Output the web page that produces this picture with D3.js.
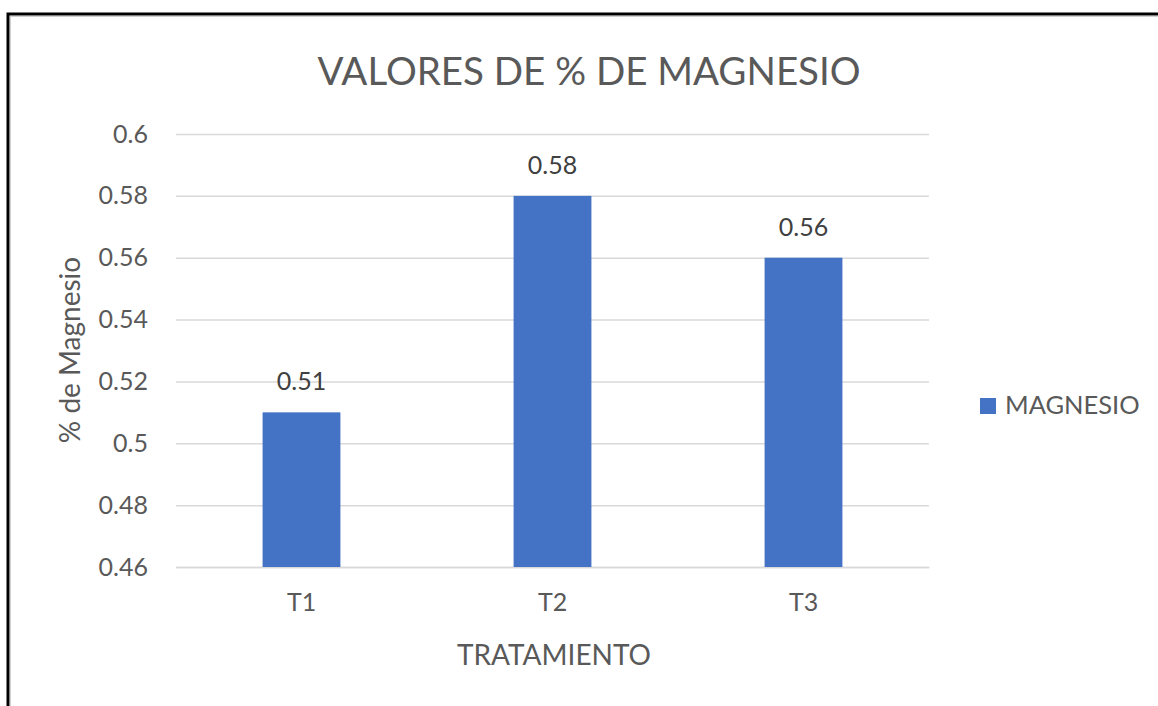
<!DOCTYPE html>
<html>
<head>
<meta charset="utf-8">
<script src="https://cdn.jsdelivr.net/npm/d3@7"></script>
<style>
  body { margin: 0; background: #fff; }
  svg { display: block; font-family: Lato, "Open Sans", sans-serif; }
</style>
</head>
<body>
<div id="chart"></div>
<script>
// data
const categories = ["T1", "T2", "T3"];
const magnesio = [0.51, 0.58, 0.56];
const yTicks = [0.46, 0.48, 0.5, 0.52, 0.54, 0.56, 0.58, 0.6];
const seriesName = "MAGNESIO";

const W = 1158, H = 706;
const margin = {top: 134, right: 229, bottom: 139, left: 176},
      width = W - margin.left - margin.right,
      height = H - margin.top - margin.bottom;

let svg = d3.select("#chart")
  .append("svg")
    .attr("width", W)
    .attr("height", H);

// outer frame
svg.append("rect")
  .attr("x", 8).attr("y", 14)
  .attr("width", W + 10).attr("height", H + 10)
  .attr("fill", "none")
  .attr("stroke", "#000")
  .attr("stroke-width", 3);
svg.append("rect")
  .attr("x", 10.5).attr("y", 16.5)
  .attr("width", W + 10).attr("height", H + 10)
  .attr("fill", "none")
  .attr("stroke", "#d0d0d0")
  .attr("stroke-width", 1);

let g = svg.append("g")
  .attr("transform", "translate(" + margin.left + "," + margin.top + ")");

// scales
let x = d3.scaleBand()
  .domain(categories)
  .range([0, width])
  .paddingInner(0.69)
  .paddingOuter(0.345);

let y = d3.scaleLinear()
  .domain([0.46, 0.6])
  .range([height, 0]);

// gridlines
g.append("g")
  .call(d3.axisLeft(y).tickValues(yTicks).tickSize(-width).tickFormat(""))
  .call(a => a.select(".domain").remove())
  .selectAll("line")
    .attr("stroke", "#d9d9d9")
    .attr("stroke-width", 1.5);

// y axis labels
g.append("g")
  .call(d3.axisLeft(y).tickValues(yTicks).tickSize(0).tickPadding(28).tickFormat(d => String(+d.toFixed(2))))
  .call(a => a.select(".domain").remove())
  .selectAll("text")
    .attr("fill", "#595959")
    .style("font-size", "25px")
    .style("font-family", "Lato, sans-serif");

// x axis labels
g.append("g")
  .attr("transform", "translate(0," + height + ")")
  .call(d3.axisBottom(x).tickSize(0).tickPadding(26))
  .call(a => a.select(".domain").attr("stroke", "#d9d9d9").attr("stroke-width", 1.5))
  .selectAll("text")
    .attr("fill", "#595959")
    .style("font-size", "25px")
    .style("font-family", "Lato, sans-serif");

// bars
g.selectAll(".bar")
  .data(magnesio)
  .enter()
  .append("rect")
    .attr("x", (d, i) => x(categories[i]))
    .attr("y", d => y(d))
    .attr("width", x.bandwidth())
    .attr("height", d => height - y(d))
    .attr("fill", "#4472c4");

// data labels
g.selectAll(".lbl")
  .data(magnesio)
  .enter()
  .append("text")
    .attr("x", (d, i) => x(categories[i]) + x.bandwidth() / 2)
    .attr("y", d => y(d) - 22)
    .attr("text-anchor", "middle")
    .attr("fill", "#404040")
    .style("font-size", "25px")
    .text(d => d);

// title
svg.append("text")
  .attr("x", 589)
  .attr("y", 85)
  .attr("text-anchor", "middle")
  .attr("fill", "#595959")
  .style("font-size", "38.5px")
  .text("VALORES DE % DE MAGNESIO");

// axis titles
svg.append("text")
  .attr("transform", "translate(80," + 350 + ") rotate(-90)")
  .attr("text-anchor", "middle")
  .attr("fill", "#595959")
  .style("font-size", "28px")
  .text("% de Magnesio");

svg.append("text")
  .attr("x", 554)
  .attr("y", 665)
  .attr("text-anchor", "middle")
  .attr("fill", "#595959")
  .style("font-size", "28px")
  .text("TRATAMIENTO");

// legend
let legend = svg.append("g").attr("transform", "translate(980,398)");
legend.append("rect")
  .attr("width", 16).attr("height", 16)
  .attr("fill", "#4472c4");
legend.append("text")
  .attr("x", 25).attr("y", 16)
  .attr("fill", "#595959")
  .style("font-size", "25.5px")
  .text(seriesName);
</script>
</body>
</html>
